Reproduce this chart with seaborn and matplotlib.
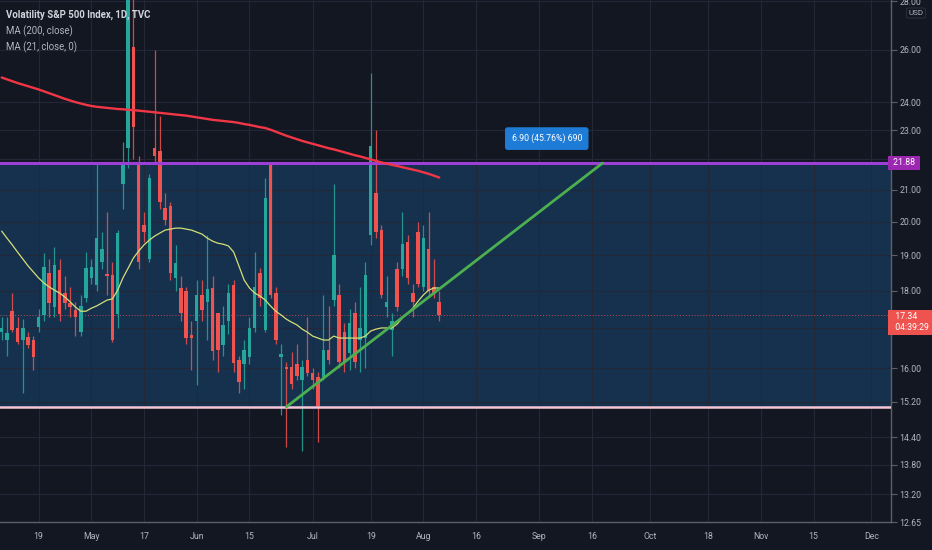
import numpy as np
import pandas as pd
import matplotlib
matplotlib.use("Agg")
import matplotlib.pyplot as plt
import matplotlib.font_manager as fm
from matplotlib.ticker import FixedLocator, NullLocator, FixedFormatter
import matplotlib.transforms as mtransforms
import seaborn as sns

# ---------------- data ----------------
start_date = "2021-04-08"
holidays = ["2021-05-31", "2021-07-05", "2021-09-06", "2021-11-25"]

open_ = [16.90, 16.70, 17.45, 17.00, 16.70, 16.77, 16.70, 17.03, 17.35, 18.50,
         17.55, 18.57, 17.94, 17.67, 17.48, 16.90, 17.80, 18.35, 18.17, 18.80,
         18.44, 18.44, 17.38, 21.20, 22.40, 26.10, 21.80, 19.90, 18.90, 22.40,
         22.30, 20.43, 20.50, 18.35, 18.07, 18.00, 16.82, 17.20, 17.90, 17.70,
         18.07, 17.40, 16.57, 17.20, 18.15, 16.20, 16.10, 16.27, 17.00, 18.50,
         16.95, 21.80, 17.95, 16.28, 16.00, 16.03, 16.10, 15.71, 16.20, 15.88,
         15.78, 15.78, 16.45, 17.75, 17.90, 16.90, 16.37, 17.40, 16.70, 16.75,
         19.60, 20.90, 19.75, 17.56, 16.95, 18.60, 18.60, 19.40, 17.95, 19.70,
         18.10, 19.20, 18.10, 17.70]
high = [17.30, 17.30, 17.94, 17.30, 17.24, 16.90, 16.80, 17.50, 19.07, 18.90,
        19.25, 18.90, 18.40, 18.10, 17.70, 17.90, 19.10, 18.90, 21.88, 19.70,
        20.30, 18.80, 19.75, 22.60, 29.00, 28.50, 22.10, 20.30, 21.50, 26.00,
        23.50, 20.90, 20.60, 19.30, 18.40, 18.10, 17.20, 18.30, 18.30, 19.60,
        18.40, 17.40, 17.60, 18.20, 18.30, 16.30, 16.70, 17.30, 19.10, 18.65,
        21.40, 21.90, 18.10, 16.60, 16.15, 16.40, 16.60, 16.20, 17.30, 16.00,
        15.90, 17.90, 17.60, 21.20, 18.20, 17.15, 17.50, 17.70, 18.10, 18.80,
        25.10, 23.00, 19.90, 18.40, 17.40, 18.80, 20.30, 19.60, 18.20, 20.00,
        19.90, 20.30, 18.90, 18.00]
low = [16.70, 16.30, 16.90, 16.60, 15.40, 16.50, 15.95, 16.90, 17.20, 17.30,
       17.30, 17.20, 17.50, 17.30, 16.80, 16.80, 17.70, 18.20, 18.00, 18.60,
       17.90, 16.65, 17.00, 20.40, 21.70, 22.00, 18.60, 19.40, 18.80, 21.90,
       20.40, 19.90, 18.30, 18.00, 17.20, 16.60, 15.95, 15.60, 17.20, 16.70,
       16.20, 15.90, 16.30, 16.85, 15.90, 15.40, 15.50, 16.10, 16.90, 17.60,
       16.90, 17.80, 16.60, 14.90, 14.18, 15.50, 15.70, 14.10, 15.80, 15.50,
       14.30, 15.70, 16.10, 17.60, 16.00, 15.90, 15.95, 16.00, 15.90, 16.00,
       19.30, 19.50, 17.80, 17.30, 16.30, 17.45, 18.40, 18.20, 17.30, 18.10,
       18.00, 17.90, 17.80, 17.20]
close = [17.00, 16.88, 16.95, 16.66, 17.00, 16.57, 16.27, 17.30, 18.67, 17.67,
         18.72, 17.38, 17.67, 17.56, 17.30, 17.60, 18.63, 18.67, 19.51, 19.20,
         18.40, 16.70, 19.66, 21.88, 28.30, 23.12, 18.81, 19.70, 21.38, 22.10,
         20.61, 20.06, 18.50, 18.77, 17.40, 16.75, 16.76, 17.90, 17.48, 18.04,
         16.42, 16.45, 17.08, 17.94, 16.12, 15.67, 16.45, 17.00, 18.12, 17.80,
         20.75, 17.90, 16.70, 16.32, 15.97, 15.62, 15.80, 16.03, 15.88, 15.71,
         15.10, 16.45, 16.20, 19.00, 16.15, 16.15, 17.15, 16.15, 17.00, 18.44,
         22.45, 19.70, 17.90, 17.70, 17.20, 17.56, 19.35, 18.35, 17.70, 18.20,
         19.50, 18.00, 17.95, 17.34]
ma200 = [24.93, 24.86, 24.79, 24.72, 24.66, 24.60, 24.54, 24.48,
         24.41, 24.34, 24.27, 24.20, 24.13, 24.07, 24.01, 23.96, 23.91, 23.87, 23.84,
         23.82, 23.80, 23.78, 23.76, 23.75, 23.73, 23.72,
         23.70, 23.68, 23.66, 23.64, 23.62, 23.60, 23.58, 23.56, 23.54, 23.52,
         23.49, 23.46, 23.43, 23.40, 23.37, 23.35, 23.33, 23.31, 23.29,
         23.26, 23.22, 23.19, 23.15, 23.11, 23.08,
         23.02, 22.95, 22.88, 22.81, 22.75, 22.69, 22.63,
         22.58, 22.53, 22.48, 22.43, 22.38, 22.34,
         22.29, 22.24, 22.19, 22.14, 22.10, 22.05,
         22.00, 21.95, 21.90, 21.86, 21.82, 21.78,
         21.74, 21.70, 21.66, 21.62, 21.57, 21.52, 21.46, 21.40]
ma21 = [19.72, 19.51, 19.31, 19.10, 18.90, 18.70, 18.53, 18.36, 18.22, 18.11,
        18.02, 17.94, 17.83, 17.70, 17.56, 17.45, 17.45, 17.53, 17.59, 17.67,
        17.75, 17.78, 18.02, 18.36, 18.64, 18.93, 19.13, 19.31, 19.45, 19.57,
        19.66, 19.75, 19.78, 19.81, 19.81, 19.78, 19.75, 19.69, 19.63, 19.51,
        19.42, 19.36, 19.33, 19.28, 19.10, 18.70, 18.30, 18.08, 17.94, 17.86,
        17.75, 17.59, 17.45, 17.35, 17.24, 17.16, 17.09, 16.98, 16.90, 16.80,
        16.75, 16.70, 16.70, 16.80, 16.75, 16.75, 16.75, 16.75, 16.75, 16.80,
        16.93, 16.98, 17.01, 17.01, 17.01, 17.11, 17.27, 17.40, 17.53, 17.72,
        17.89, 18.02, 18.08, 18.08]

tick_dates = ["2021-04-19", "2021-05-03", "2021-05-17", "2021-06-01", "2021-06-15",
              "2021-07-01", "2021-07-19", "2021-08-02", "2021-08-16", "2021-09-01",
              "2021-09-16", "2021-10-01", "2021-10-18", "2021-11-01", "2021-11-15",
              "2021-12-01"]
tick_labels = ["19", "May", "17", "Jun", "15", "Jul", "19", "Aug", "16", "Sep",
               "16", "Oct", "18", "Nov", "15", "Dec"]
y_ticks = [12.65, 13.20, 13.80, 14.40, 15.20, 16.00, 17.00, 18.00, 19.00, 20.00,
           21.00, 22.00, 23.00, 24.00, 26.00, 28.00]
y_tick_labels = ["12.65", "13.20", "13.80", "14.40", "15.20", "16.00", "", "18.00",
                 "19.00", "20.00", "21.00", "", "23.00", "24.00", "26.00", "28.00"]

trend_dates = ["2021-06-24", "2021-09-20"]
trend_prices = [15.08, 21.88]
range_low = 15.08
range_high = 21.88
last_price = 17.34
range_text = "6.90 (45.76%) 690"
countdown = "04:39:29"
title_lines = ["Volatility S&P 500 Index, 1D, TVC", "MA (200, close)", "MA (21, close, 0)"]

# ---------------- style ----------------
BG = "#131722"
UP = "#26a69a"
DOWN = "#ef5350"
GRID = "#242836"
TXT = "#b2b5be"

sns.set_style("dark")
avail = {f.name for f in fm.fontManager.ttflist}
ui_font = "Liberation Sans Narrow" if "Liberation Sans Narrow" in avail else "Roboto"
plt.rcParams["font.family"] = [ui_font, "DejaVu Sans"]
narrow = ui_font == "Liberation Sans Narrow"
fs = 7.2 if narrow else 6.3

# ---------------- calendar ----------------
cbd = pd.offsets.CustomBusinessDay(holidays=holidays)
cal = pd.date_range(start_date, periods=200, freq=cbd)
idx_of = {d: i for i, d in enumerate(cal)}

n = len(close)
x = np.arange(n)
o = np.array(open_); c = np.array(close); h = np.array(high); l = np.array(low)
up = c >= o
cols = np.where(up, UP, DOWN)

fig = plt.figure(figsize=(9.32, 5.5), dpi=100, facecolor=BG)
ax = fig.add_axes([0, 28 / 550, 891 / 932, 522 / 550])
ax.set_facecolor(BG)
ax.set_yscale("log")
ax.set_ylim(12.65, 28.06)
ax.set_xlim(-0.32, 168.7)

# range rectangle and horizontal levels
ax.axhspan(range_low, range_high, color="#2196f3", alpha=0.21, lw=0, zorder=0.5)
ax.axhline(range_high, color="#9c3fd6", lw=2.2, zorder=3)
ax.axhline(range_low, color="#f6c6d6", lw=1.8, zorder=3)
ax.axhline(last_price, color=DOWN, lw=0.7, ls=(0, (1, 2)), alpha=0.8, zorder=1)

# candles
ax.vlines(x, l, h, colors=cols, lw=0.9, alpha=0.85, zorder=2)
bottoms = np.minimum(o, c)
heights = np.maximum(np.abs(c - o), bottoms * 0.004)
ax.bar(x, heights, bottom=bottoms, width=0.66, color=cols, lw=0, zorder=2.2)

# moving averages
sns.lineplot(x=x, y=ma200, ax=ax, color="#f23645", lw=1.7, zorder=4)
sns.lineplot(x=x, y=ma21, ax=ax, color="#d4df78", lw=0.9, zorder=4)

# trend line
tx = [idx_of[pd.Timestamp(d)] for d in trend_dates]
ax.plot(tx, trend_prices, color="#4caf50", lw=2, solid_capstyle="round", zorder=5)

# range label
ax.text(103.4, 22.71, range_text, ha="center", va="center", color="white",
        fontsize=fs, zorder=6,
        bbox=dict(boxstyle="round,pad=0.75,rounding_size=0.3", fc="#1e7bd6", ec="none"))

# axes / grid
ax.yaxis.set_major_locator(FixedLocator(y_ticks))
ax.yaxis.set_minor_locator(NullLocator())
ax.yaxis.set_major_formatter(FixedFormatter(y_tick_labels))
ax.yaxis.tick_right()
xt = [idx_of[pd.Timestamp(d)] for d in tick_dates]
ax.set_xticks(xt)
ax.set_xticklabels(tick_labels)
ax.xaxis.set_minor_locator(NullLocator())
ax.tick_params(axis="y", which="major", colors="#5d606b", labelcolor=TXT,
               labelsize=fs, length=4, width=0.8, pad=2, direction="out")
ax.tick_params(axis="x", which="major", colors="#5d606b", labelcolor=TXT,
               labelsize=fs, length=4, width=0.8, pad=3, direction="out")
ax.grid(True, color=GRID, lw=0.8, zorder=0)
ax.set_axisbelow(True)
for s in ["top", "left"]:
    ax.spines[s].set_visible(False)
for s in ["right", "bottom"]:
    ax.spines[s].set_color("#5d606b")
    ax.spines[s].set_linewidth(1)
ax.set_xlabel("")
ax.set_ylabel("")

# price labels on the scale
trans = mtransforms.blended_transform_factory(ax.transAxes, ax.transData)
ax.text(1.0, range_high, " 21.88 ", transform=trans, ha="left", va="center",
        color="white", fontsize=fs, clip_on=False, zorder=10,
        bbox=dict(boxstyle="square,pad=0.3", fc="#9c27b0", ec="none"))
ax.text(1.0, 17.16, f"  {last_price:.2f}       \n  {countdown}  ", transform=trans,
        ha="left", va="center", color="white", fontsize=fs, clip_on=False,
        zorder=10, linespacing=1.25,
        bbox=dict(boxstyle="square,pad=0.3", fc=DOWN, ec="none"))

fig.text(916 / 932, 1 - 13 / 550, "USD", ha="center", va="center", color=TXT,
         fontsize=fs - 0.5,
         bbox=dict(boxstyle="round,pad=0.25", fc=BG, ec="#2a2e39", lw=0.8))

# header
fig.text(6 / 932, 1 - 15 / 550, title_lines[0], ha="left", va="center",
         color="#d1d4dc", fontsize=fs + 0.6, fontweight="bold")
fig.text(6 / 932, 1 - 31 / 550, title_lines[1], ha="left", va="center",
         color=TXT, fontsize=fs + 0.6)
fig.text(6 / 932, 1 - 47 / 550, title_lines[2], ha="left", va="center",
         color=TXT, fontsize=fs + 0.6)

fig.savefig("out.png", dpi=100, facecolor=BG)
